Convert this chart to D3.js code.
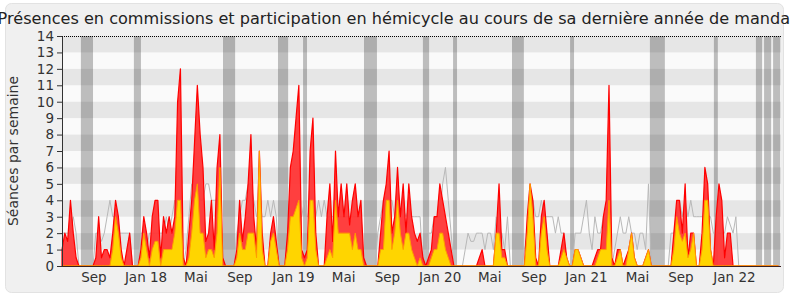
<!DOCTYPE html>
<html>
<head>
<meta charset="utf-8">
<script src="https://cdn.jsdelivr.net/npm/d3@7"></script>
<style>
    body { margin: 0; background: #fff; }
    svg { display: block; font-family: "DejaVu Sans", sans-serif; }
</style>
</head>
<body>
<div class="chart-container"></div>
<script>
// --- Data (one value per week, starting mid-June 2017) ---
// Présences (red area)
const presences = [
    1, 2, 1.5, 4, 2, 0.5, 0, 0, 0, 0,
    0, 0, 0.5, 3, 0.5, 1, 1, 0.5, 2, 4,
    3, 1, 0, 1, 2, 0, 0, 0, 1, 3,
    2, 0.5, 3, 4, 4, 0.5, 3, 2, 3, 2,
    3, 10, 12, 0.5, 0, 2, 4, 7.5, 11, 8,
    6, 1.5, 2, 4, 1, 6, 8, 0.5, 0, 0,
    0, 0, 1, 4, 1.5, 3, 5, 8, 3, 1,
    7, 2, 0, 0, 2, 3, 1.5, 0, 0, 0,
    2, 6, 7, 9, 11, 1, 0.5, 1, 7, 9,
    2, 0, 0, 0, 3, 5, 1.5, 7, 3, 5,
    3, 5, 2.5, 4, 5, 3, 4, 0.5, 0, 0,
    0, 0, 0, 2, 4, 5, 7, 2, 3, 6,
    3, 5, 2, 5, 3, 2, 1.5, 2, 0.5, 0,
    0.5, 1, 3, 3, 5, 4, 3, 2, 1, 0,
    0, 0, 0, 0, 0, 0, 0, 0, 0.5, 1,
    0, 0, 0, 0, 2, 5, 1, 1, 0, 0,
    0, 0, 0, 0, 0, 3, 5, 4, 0.5, 0,
    3, 4, 2, 0, 0, 0, 0, 1, 2, 0.5,
    0, 0, 1, 1, 0.5, 0, 0, 0, 0, 0.5,
    1, 1, 3, 4, 11, 0.5, 0, 1, 1, 0,
    0.5, 1, 2, 0.5, 0, 0, 0, 0.5, 1, 0,
    0, 0, 0, 0, 0, 0, 0, 2, 4, 4,
    2, 5, 0.5, 2, 2, 0, 0, 2, 6, 5,
    1, 0, 3, 5, 4, 0.5, 2, 2, 0, 0,
    0, 0, 0, 0, 0, 0, 0, 0, 0, 0,
    0, 0, 0, 0, 0
];

// Participations en hémicycle (yellow area)
const participations = [
    0, 0, 0, 0, 0, 0, 0, 0, 0, 0,
    0, 0, 0, 0, 0, 0, 0, 0, 1, 3,
    2, 0.5, 0, 0, 0, 0, 0, 0, 0.5, 2,
    1, 0, 1, 1.5, 1.5, 0, 1, 1, 1, 1,
    2, 4, 4, 0, 0, 0.5, 2, 4, 5, 2,
    2, 0.5, 1, 1, 0.5, 2, 6, 0, 0, 0,
    0, 0, 0.5, 2, 1, 1, 2, 2, 2, 0.5,
    7, 1, 0, 0, 1.5, 2, 1, 0, 0, 0,
    1, 3, 3, 3.5, 4, 0.5, 0, 0.5, 4, 4,
    1, 0, 0, 0, 0.5, 1, 0.5, 4, 2, 2,
    2, 2, 2, 1, 2, 1, 1, 0, 0, 0,
    0, 0, 0, 1, 1, 4, 4, 1, 2, 4,
    2, 1, 2, 2, 1, 0.5, 0, 0.5, 0, 0,
    0, 0.5, 1, 1, 2, 2, 1, 0.5, 0, 0,
    0, 0, 0, 0, 0, 0, 0, 0, 0, 0,
    0, 0, 0, 0, 2, 2, 0.5, 0.5, 0, 0,
    0, 0, 0, 0, 0, 2, 5, 3, 0, 0,
    2, 3, 1, 0, 0, 0, 0, 0.5, 1, 0.5,
    0, 0, 1, 1, 0.5, 0, 0, 0, 0, 0,
    0.5, 1, 1, 1, 4, 0, 0, 0.5, 1, 0,
    0, 1, 2, 0.5, 0, 0, 0, 0.5, 1, 0,
    0, 0, 0, 0, 0, 0, 0, 1, 3, 2,
    1.5, 2, 0.5, 1, 2, 0, 0, 1, 4, 4,
    1, 0, 0, 0, 0, 0, 0, 0, 0, 0,
    0, 0, 0, 0, 0, 0, 0, 0, 0, 0,
    0, 0, 0, 0, 0
];

// Médiane des députés (grey line)
const mediane = [
    2, 2, 2, 2, 3, 2, 0, 0, 0, 0,
    0, 0, 2, 2, 1.5, 2, 3, 4, 3, 3,
    2, 2, 2, 2, 2, 0, 0, 0, 2, 2,
    1, 2, 2, 2, 2, 2, 2, 3, 2, 3,
    4, 3, 2, 0, 1, 3, 5, 4, 5, 4,
    4, 5, 5, 4, 4, 4, 3, 0, 0, 0,
    0, 0, 2, 3, 4, 4, 5, 5, 4, 3,
    4, 3, 3, 4, 3, 4, 3, 0, 0, 0,
    2, 3, 3, 4, 3, 3, 4, 3, 3, 3,
    3, 4, 3, 4, 3, 3, 3, 3, 3, 3,
    3, 3, 3, 3, 3, 3, 3, 0, 0, 0,
    0, 0, 2, 3, 4, 3, 4, 4, 3, 3,
    3, 3.5, 3, 3.5, 3, 3, 3, 3, 0, 0,
    2, 2, 3, 3, 3, 5, 6, 4, 2, 0,
    0, 0, 0, 1, 2, 1.5, 1.5, 2, 2, 2,
    1, 2, 2, 1, 3, 2, 2, 1, 3, 0,
    0, 0, 0, 0, 1, 2, 4, 4, 3, 3,
    4, 3, 3, 3, 3, 2, 3, 2, 2, 0,
    0, 0, 2, 2, 2, 3, 4, 2, 1, 3,
    2, 2, 3, 2, 0, 0, 1, 2, 3, 2,
    2, 3, 2, 2, 1, 2, 2, 1, 5, 0,
    0, 0, 0, 0, 0, 0, 2, 2, 3, 4,
    3, 4, 3, 4, 3, 3, 3, 3, 3, 3,
    3, 2, 2, 2, 2, 2, 3, 2.5, 2, 3,
    0, 0, 0, 0, 0, 0, 0, 0, 0, 0,
    0, 0, 0, 0, 0
];

// Vacances parlementaires, in weeks [start, end]
const vacances = [
    [6.7, 11.0], [25.5, 28.0], [57.1, 61.4], [76.6, 80.2], [85.5, 86.9],
    [107.1, 111.7], [128.0, 130.2], [138.7, 140.1], [159.6, 163.8], [180.2, 181.6],
    [208.5, 213.8], [231.2, 232.6], [246.1, 248.3], [249.0, 251.5], [252.2, 254.7]
];

// Month labels and the week they fall on
const monthLabels = ["Sep", "Jan 18", "Mai", "Sep", "Jan 19", "Mai", "Sep", "Jan 20",
    "Mai", "Sep", "Jan 21", "Mai", "Sep", "Jan 22"];
const monthWeeks = [11.3, 29.8, 47.5, 63.1, 82.1, 99.9, 115.4, 134.1,
    151.7, 167.4, 186.0, 204.1, 219.5, 238.5];

const title = "Présences en commissions et participation en hémicycle au cours de sa dernière année de mandat";

// --- Layout ---
const dimensions = {
    width: 790,
    height: 300,
    margin: { top: 36, right: 9, bottom: 34, left: 62 }
};
const width = dimensions.width - dimensions.margin.left - dimensions.margin.right;
const height = dimensions.height - dimensions.margin.top - dimensions.margin.bottom;
const yMax = 14;

const root = d3.select(".chart-container").append("svg")
    .attr("width", dimensions.width)
    .attr("height", dimensions.height);

// outer rounded panel
root.append("rect")
    .attr("x", 5.5).attr("y", 3.5)
    .attr("width", 778).attr("height", 289)
    .attr("rx", 6)
    .attr("fill", "#f0f0f0")
    .attr("stroke", "#e2e2e2");

// title is wider than the panel, as in the original
root.append("text")
    .attr("x", dimensions.width / 2 + 2)
    .attr("y", 24)
    .attr("text-anchor", "middle")
    .style("font-size", "16.1px")
    .attr("fill", "#222")
    .text(title);

const svg = root.append("g")
    .attr("transform", `translate(${dimensions.margin.left}, ${dimensions.margin.top})`);

const x = d3.scaleLinear().domain([0, presences.length]).range([0, width]);
const y = d3.scaleLinear().domain([0, yMax]).range([height, 0]);

// --- Background: light base, holiday bands, darker stripes on top ---
svg.append("rect")
    .attr("width", width).attr("height", height)
    .attr("fill", "#fafafa");

svg.selectAll(".vac")
    .data(vacances)
    .enter().append("rect")
    .attr("class", "vac")
    .attr("x", d => x(d[0]))
    .attr("width", d => x(d[1]) - x(d[0]))
    .attr("y", 0)
    .attr("height", height)
    .attr("fill", "#bdbdbd");

svg.selectAll(".stripe")
    .data(d3.range(1, yMax, 2))
    .enter().append("rect")
    .attr("class", "stripe")
    .attr("x", 0)
    .attr("width", width)
    .attr("y", d => y(d + 1))
    .attr("height", d => y(d) - y(d + 1))
    .attr("fill", "rgba(0,0,0,0.08)");

// --- Series ---
const medianLine = d3.line()
    .x((d, i) => x(i))
    .y(d => y(d));

svg.append("path")
    .datum(mediane)
    .attr("d", medianLine)
    .attr("fill", "none")
    .attr("stroke", "#b8b8b8")
    .attr("stroke-width", 1);

const area = d3.area()
    .x((d, i) => x(i))
    .y0(height)
    .y1(d => y(d));

svg.append("path")
    .datum(presences)
    .attr("d", area)
    .attr("fill", "#ff3535")
    .attr("fill-opacity", 0.95)
    .attr("stroke", "#ff0000")
    .attr("stroke-width", 1.2)
    .attr("stroke-linejoin", "round");

svg.append("path")
    .datum(participations)
    .attr("d", area)
    .attr("fill", "#ffd500")
    .attr("stroke", "#ff9d00")
    .attr("stroke-width", 1)
    .attr("stroke-linejoin", "round");

// top dotted line and baseline
svg.append("line")
    .attr("x1", 0).attr("x2", width)
    .attr("y1", 0.5).attr("y2", 0.5)
    .attr("stroke", "#000")
    .attr("stroke-dasharray", "1,1");

svg.append("line")
    .attr("x1", 0).attr("x2", width)
    .attr("y1", height + 0.5).attr("y2", height + 0.5)
    .attr("stroke", "#3a2020");

// --- Axes ---
const yAxis = svg.append("g")
    .attr("class", "y-axis")
    .call(d3.axisLeft(y).ticks(yMax).tickSize(5).tickPadding(3).tickSizeOuter(0));

yAxis.select(".domain").attr("stroke", "#333");
yAxis.selectAll(".tick line").attr("stroke", "#333");
yAxis.selectAll("text")
    .style("font-size", "13.5px")
    .style("font-family", "DejaVu Sans")
    .attr("fill", "#333");

svg.selectAll(".month")
    .data(monthLabels)
    .enter().append("text")
    .attr("class", "month")
    .attr("x", (d, i) => x(monthWeeks[i]))
    .attr("y", height + 16)
    .attr("text-anchor", "middle")
    .style("font-size", "13.5px")
    .attr("fill", "#333")
    .text(d => d);

root.append("text")
    .attr("transform", `translate(18, ${dimensions.margin.top + height / 2}) rotate(-90)`)
    .attr("text-anchor", "middle")
    .style("font-size", "14px")
    .attr("fill", "#333")
    .text("Séances par semaine");
</script>
</body>
</html>
